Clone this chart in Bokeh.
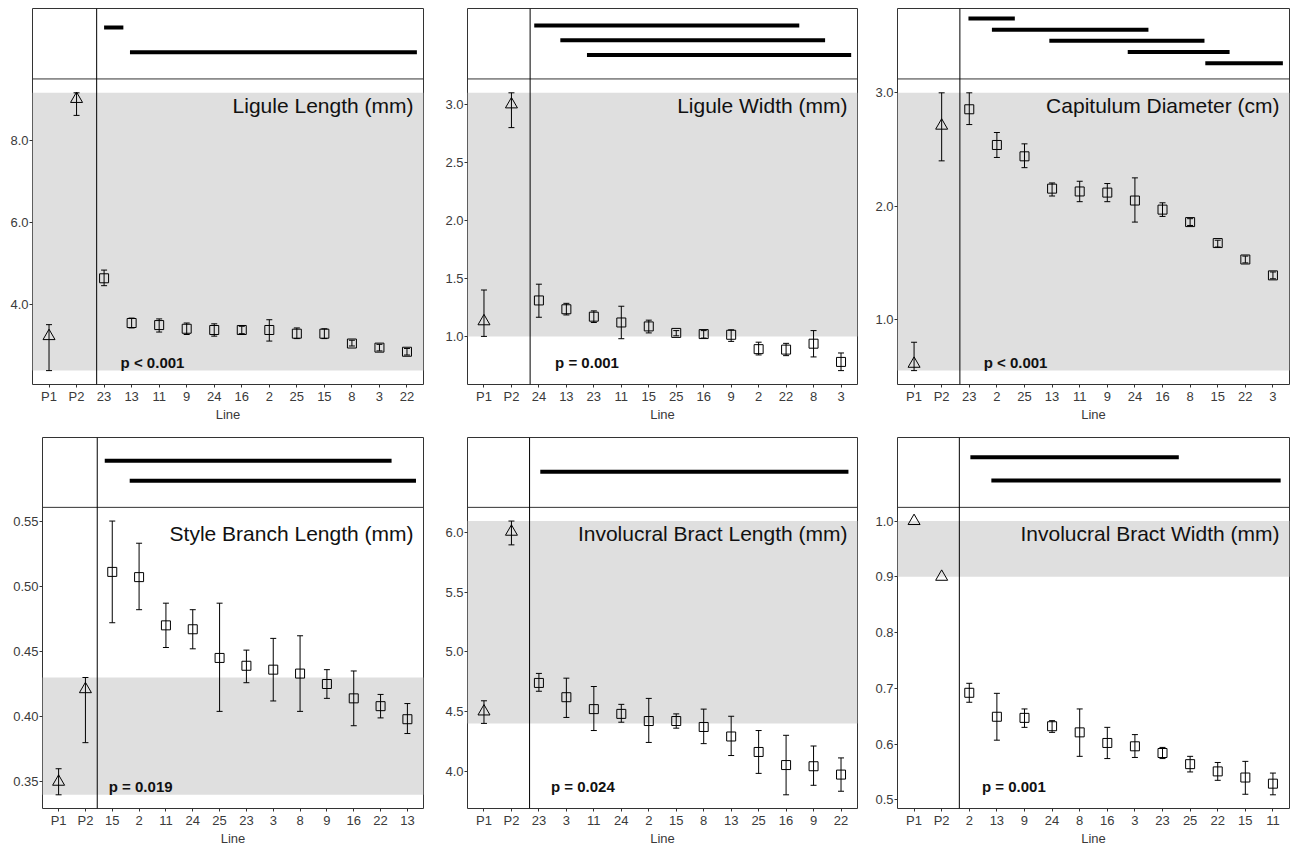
import numpy as np
from bokeh.plotting import figure
from bokeh.models import (Range1d, FixedTicker, PrintfTickFormatter, Span, BoxAnnotation,
                          Whisker, TeeHead, ColumnDataSource, Label)
from bokeh.layouts import row, column
from bokeh.embed import file_html
from bokeh.resources import INLINE

FONT = "Liberation Sans"
NAN = float("nan")

# ---------------- data ----------------
# Ligule Length (mm)
ll_cats = ["P1", "P2", "23", "13", "11", "9", "24", "16", "2", "25", "15", "8", "3", "22"]
ll_mean = [3.22, 9.00, 4.63, 3.54, 3.49, 3.40, 3.37, 3.37, 3.37, 3.28, 3.28, 3.04, 2.94, 2.84]
ll_lo = [2.38, 8.60, 4.45, 3.42, 3.32, 3.26, 3.22, 3.28, 3.10, 3.16, 3.16, 2.98, 2.86, 2.76]
ll_hi = [3.50, 9.15, 4.83, 3.66, 3.64, 3.54, 3.52, 3.46, 3.62, 3.42, 3.40, 3.12, 3.02, 2.92]
ll_bar_from = [3.00, 3.94]
ll_bar_to = [3.70, 14.36]
ll_bar_row = [1, 2]
ll_p = "p < 0.001"
ll_ticks = [4.0, 6.0, 8.0]

# Ligule Width (mm)
lw_cats = ["P1", "P2", "24", "13", "23", "11", "15", "25", "16", "9", "2", "22", "8", "3"]
lw_mean = [1.13, 3.00, 1.31, 1.234, 1.17, 1.12, 1.086, 1.03, 1.02, 1.014, 0.89, 0.886, 0.937, 0.78]
lw_lo = [1.00, 2.80, 1.165, 1.185, 1.12, 0.98, 1.03, 1.005, 0.986, 0.957, 0.84, 0.834, 0.823, 0.705]
lw_hi = [1.40, 3.10, 1.45, 1.285, 1.22, 1.26, 1.14, 1.05, 1.05, 1.057, 0.95, 0.94, 1.05, 0.857]
lw_bar_from = [2.83, 3.78, 4.75]
lw_bar_to = [12.48, 13.42, 14.37]
lw_bar_row = [1, 2, 3]
lw_p = "p = 0.001"
lw_ticks = [1.0, 1.5, 2.0, 2.5, 3.0]

# Capitulum Diameter (cm)
cd_cats = ["P1", "P2", "23", "2", "25", "13", "11", "9", "24", "16", "8", "15", "22", "3"]
cd_mean = [0.61, 2.71, 2.855, 2.54, 2.44, 2.155, 2.13, 2.12, 2.05, 1.97, 1.86, 1.675, 1.53, 1.39]
cd_lo = [0.55, 2.40, 2.72, 2.43, 2.34, 2.09, 2.04, 2.04, 1.86, 1.91, 1.83, 1.64, 1.50, 1.36]
cd_hi = [0.80, 3.00, 3.00, 2.65, 2.55, 2.205, 2.22, 2.20, 2.25, 2.03, 1.89, 1.70, 1.56, 1.42]
cd_bar_from = [2.97, 3.82, 5.90, 8.74, 11.55]
cd_bar_to = [4.65, 9.49, 11.52, 12.43, 14.36]
cd_bar_row = [1, 2, 3, 4, 5]
cd_p = "p < 0.001"
cd_ticks = [1.0, 2.0, 3.0]

# Style Branch Length (mm)
sb_cats = ["P1", "P2", "15", "2", "11", "24", "25", "23", "3", "8", "9", "16", "22", "13"]
sb_mean = [0.350, 0.421, 0.511, 0.507, 0.470, 0.467, 0.445, 0.439, 0.436, 0.433, 0.425, 0.414, 0.408, 0.398]
sb_lo = [0.340, 0.380, 0.472, 0.482, 0.453, 0.452, 0.404, 0.426, 0.412, 0.404, 0.414, 0.393, 0.399, 0.387]
sb_hi = [0.360, 0.430, 0.550, 0.533, 0.487, 0.482, 0.487, 0.451, 0.460, 0.462, 0.436, 0.435, 0.417, 0.410]
sb_bar_from = [2.72, 3.65]
sb_bar_to = [13.41, 14.32]
sb_bar_row = [1, 2]
sb_p = "p = 0.019"
sb_ticks = [0.35, 0.40, 0.45, 0.50, 0.55]

# Involucral Bract Length (mm)
bl_cats = ["P1", "P2", "23", "3", "11", "24", "2", "15", "8", "13", "25", "16", "9", "22"]
bl_mean = [4.50, 6.01, 4.74, 4.62, 4.52, 4.48, 4.42, 4.42, 4.37, 4.29, 4.16, 4.05, 4.04, 3.97]
bl_lo = [4.40, 5.90, 4.67, 4.45, 4.34, 4.41, 4.24, 4.36, 4.23, 4.13, 3.98, 3.80, 3.88, 3.83]
bl_hi = [4.59, 6.10, 4.82, 4.78, 4.71, 4.56, 4.61, 4.48, 4.52, 4.46, 4.34, 4.30, 4.21, 4.11]
bl_bar_from = [3.05]
bl_bar_to = [14.27]
bl_bar_row = [1]
bl_p = "p = 0.024"
bl_ticks = [4.0, 4.5, 5.0, 5.5, 6.0]

# Involucral Bract Width (mm)
bw_cats = ["P1", "P2", "2", "13", "9", "24", "8", "16", "3", "23", "25", "22", "15", "11"]
bw_mean = [1.00, 0.90, 0.692, 0.649, 0.647, 0.632, 0.621, 0.602, 0.596, 0.584, 0.564, 0.551, 0.540, 0.529]
bw_lo = [NAN, NAN, 0.675, 0.607, 0.630, 0.621, 0.578, 0.574, 0.576, 0.574, 0.550, 0.535, 0.510, 0.509]
bw_hi = [NAN, NAN, 0.709, 0.691, 0.663, 0.642, 0.663, 0.630, 0.617, 0.594, 0.578, 0.567, 0.569, 0.548]
bw_bar_from = [3.04, 3.80]
bw_bar_to = [10.59, 14.28]
bw_bar_row = [1, 2]
bw_p = "p = 0.001"
bw_ticks = [0.5, 0.6, 0.7, 0.8, 0.9, 1.0]

# ---------------- layout / styling ----------------
STRIP = 71          # strip height (px)
X_LO, X_HI = 0.4, 14.6
INK = "#333333"


def make_panel(title, cats, mean, lo, hi, bfrom, bto, brow, ptxt, ticks, fmt,
               divider, strip_lims, p_x, width, height, mbl, mbr, mbt, mbb):
    n = len(cats)
    xs = list(range(1, n + 1))
    mean_a = np.array(mean, float)
    lo_a = np.array(lo, float)
    hi_a = np.array(hi, float)

    H = height - mbt - mbb
    W = width - mbl - mbr
    allv = np.concatenate([mean_a, lo_a, hi_a])
    dmin, dmax = np.nanmin(allv), np.nanmax(allv)
    span = dmax - dmin
    ylo = dmin - 0.05 * span
    yhi = dmax + 0.05 * span
    ytop = ylo + (yhi - ylo) * H / (H - STRIP)

    p = figure(width=width, height=height, output_backend="svg", toolbar_location=None,
               x_range=Range1d(X_LO, X_HI), y_range=Range1d(ylo, ytop),
               min_border_left=mbl, min_border_right=mbr,
               min_border_top=mbt, min_border_bottom=mbb,
               background_fill_color="white", border_fill_color="white")
    p.xgrid.visible = False
    p.ygrid.visible = False
    p.outline_line_color = INK
    p.outline_line_width = 1

    v_top, v_sb = strip_lims
    v_fb = v_top + (v_sb - v_top) * H / STRIP
    p.extra_y_ranges = {"strip": Range1d(start=v_fb, end=v_top)}

    # shaded parental range
    par = np.concatenate([mean_a[:2], lo_a[:2], hi_a[:2]])
    p.add_layout(BoxAnnotation(bottom=float(np.nanmin(par)), top=float(np.nanmax(par)),
                               fill_color="#dfdfdf", fill_alpha=1.0, line_color=None,
                               level="underlay"))

    # error bars
    ok = ~np.isnan(lo_a)
    wsrc = ColumnDataSource(dict(x=[xs[i] for i in range(n) if ok[i]],
                                 lo=list(lo_a[ok]), hi=list(hi_a[ok])))
    p.add_layout(Whisker(source=wsrc, base="x", lower="lo", upper="hi",
                         line_color="black", line_width=1,
                         upper_head=TeeHead(size=6, line_color="black", line_width=1),
                         lower_head=TeeHead(size=6, line_color="black", line_width=1)))

    # points
    p.scatter(xs[:2], mean[:2], marker="triangle", size=12, fill_color=None,
              line_color="black", line_width=1)
    p.scatter(xs[2:], mean[2:], marker="square", size=9, fill_color=None,
              line_color="black", line_width=1)

    # strip: homogeneous subsets
    p.segment(x0=bfrom, y0=brow, x1=bto, y1=brow, y_range_name="strip",
              line_color="black", line_width=4, line_cap="butt")

    # separators
    p.add_layout(Span(location=yhi, dimension="width", line_color=INK, line_width=1))
    p.add_layout(Span(location=divider, dimension="height", line_color="black", line_width=1))

    # texts
    xspan = X_HI - X_LO
    yunit = (yhi - ylo) / (H - STRIP)
    p.add_layout(Label(x=X_HI - 10 * xspan / W, y=yhi - 27 * yunit, text=title,
                       text_align="right", text_baseline="middle", text_font=FONT,
                       text_font_size="21px", text_color="#111111"))
    p.add_layout(Label(x=p_x, y=ylo + 22 * yunit, text=ptxt, text_align="left",
                       text_baseline="middle", text_font=FONT, text_font_size="15px",
                       text_font_style="bold", text_color="#111111"))

    # axes
    xa = p.xaxis[0]
    xa.ticker = FixedTicker(ticks=xs)
    xa.major_label_overrides = {x: c for x, c in zip(xs, cats)}
    xa.axis_label = "Line"
    ya = p.yaxis[0]
    ya.ticker = FixedTicker(ticks=ticks)
    ya.formatter = PrintfTickFormatter(format=fmt)
    for ax in (xa, ya):
        ax.axis_line_color = None
        ax.major_tick_line_color = INK
        ax.major_tick_out = 3
        ax.major_tick_in = 0
        ax.minor_tick_out = 0
        ax.minor_tick_in = 0
        ax.major_label_standoff = 1
        ax.major_label_text_font = FONT
        ax.major_label_text_font_size = "13px"
        ax.major_label_text_color = "#3a3a3a"
        ax.axis_label_text_font = FONT
        ax.axis_label_text_font_size = "13px"
        ax.axis_label_text_font_style = "normal"
        ax.axis_label_text_color = "#3a3a3a"
        ax.axis_label_standoff = 0
    return p


R1 = dict(height=424, mbt=8, mbb=37)
R2 = dict(height=424, mbt=13, mbb=34)
C1 = dict(width=440, mbr=17)
C2 = dict(width=430, mbl=27, mbr=13)
C3 = dict(width=420, mbl=27, mbr=1)

f1 = make_panel("Ligule Length (mm)", ll_cats, ll_mean, ll_lo, ll_hi, ll_bar_from, ll_bar_to,
                ll_bar_row, ll_p, ll_ticks, "%.1f", 2.73, (0.24, 3.07), 3.60,
                mbl=32, **C1, **R1)
f2 = make_panel("Ligule Width (mm)", lw_cats, lw_mean, lw_lo, lw_hi, lw_bar_from, lw_bar_to,
                lw_bar_row, lw_p, lw_ticks, "%.1f", 2.68, (-0.145, 4.62), 3.59,
                **C2, **R1)
f3 = make_panel("Capitulum Diameter (cm)", cd_cats, cd_mean, cd_lo, cd_hi, cd_bar_from, cd_bar_to,
                cd_bar_row, cd_p, cd_ticks, "%.1f", 2.66, (0.11, 6.40), 3.52,
                **C3, **R1)
f4 = make_panel("Style Branch Length (mm)", sb_cats, sb_mean, sb_lo, sb_hi, sb_bar_from, sb_bar_to,
                sb_bar_row, sb_p, sb_ticks, "%.2f", 2.44, (-0.15, 3.32), 2.87,
                mbl=42, **C1, **R2)
f5 = make_panel("Involucral Bract Length (mm)", bl_cats, bl_mean, bl_lo, bl_hi, bl_bar_from, bl_bar_to,
                bl_bar_row, bl_p, bl_ticks, "%.1f", 2.66, (-0.147, 2.19), 3.44,
                **C2, **R2)
f6 = make_panel("Involucral Bract Width (mm)", bw_cats, bw_mean, bw_lo, bw_hi, bw_bar_from, bw_bar_to,
                bw_bar_row, bw_p, bw_ticks, "%.1f", 2.64, (0.14, 3.17), 3.46,
                **C3, **R2)

layout = column(row(f1, f2, f3), row(f4, f5, f6))
open("out.html", "w").write(file_html(layout, INLINE))
